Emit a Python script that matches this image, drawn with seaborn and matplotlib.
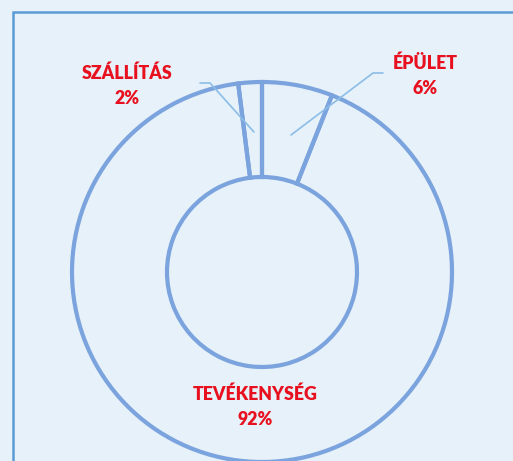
import numpy as np
import matplotlib.pyplot as plt
import seaborn as sns
from matplotlib.patches import Rectangle

sns.set_theme(style="white")
plt.rcParams['font.family'] = ['Lato', 'DejaVu Sans']

# data
labels = ["ÉPÜLET", "TEVÉKENYSÉG", "SZÁLLÍTÁS"]
shares = [6, 92, 2]
pct_labels = ["6%", "92%", "2%"]

W, H = 513, 461
CX, CY, R = 262, 272, 190
bg = "#e6f1fa"
ring = "#7ba3dd"
leader = "#8cbde6"
red = "#e8101e"


def px(x, y):
    # pixel position -> data coords (radius = 1)
    return (x - CX) / R, (CY - y) / R


fig = plt.figure(figsize=(W / 100, H / 100), dpi=100, facecolor=bg)
ax = fig.add_axes([0, 0, 1, 1])
ax.set_facecolor(bg)

ax.pie(shares, startangle=90, counterclock=False, radius=1,
       colors=["none"] * len(shares),
       wedgeprops=dict(width=0.5, edgecolor=ring, linewidth=3))

ax.set_xlim(-CX / R, (W - CX) / R)
ax.set_ylim((CY - H) / R, CY / R)
ax.set_aspect("equal")
ax.axis("off")

# leader lines
for pts in ([(254, 132), (210, 83), (200, 83)],
            [(291, 135), (373, 73), (383, 73)]):
    xs, ys = zip(*[px(*p) for p in pts])
    ax.plot(xs, ys, color=leader, lw=1.2)

# labels
label_pos = {"SZÁLLÍTÁS": (127, 86), "ÉPÜLET": (425, 76), "TEVÉKENYSÉG": (255, 407)}
for name, pct in zip(labels, pct_labels):
    x, y = px(*label_pos[name])
    ax.text(x, y, f"{name}\n{pct}", ha="center", va="center", color=red,
            fontsize=12.8, fontweight="heavy", linespacing=1.6)

# frame
fig.add_artist(Rectangle((13 / W, -0.1), 1.2, 1.1 - 12 / H,
                         transform=fig.transFigure, fill=False,
                         edgecolor="#5b9bd5", lw=1.8))

fig.savefig("out.png", dpi=100, facecolor=bg)
